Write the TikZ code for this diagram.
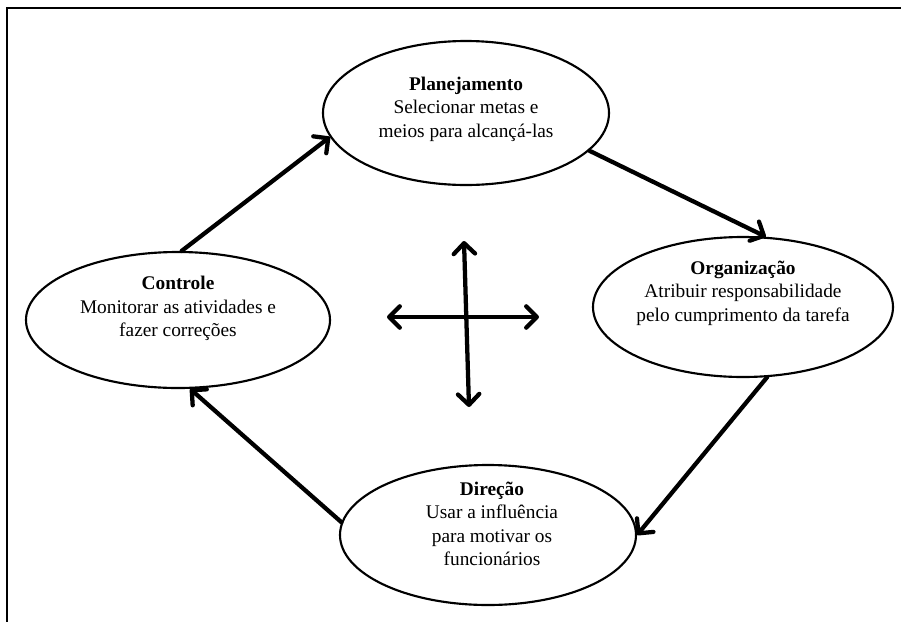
\documentclass[tikz,border=0pt]{standalone}
\usepackage{fontspec}
\setmainfont{Liberation Serif}
\usetikzlibrary{shapes.geometric,arrows.meta}
\begin{document}
\begin{tikzpicture}[x=0.75pt,y=-0.75pt,
  phase/.style={draw=black,line width=1.6pt,ellipse,inner sep=0pt},
  phasetext/.style={align=center,inner sep=0pt,font=\fontsize{14.5pt}{17.6pt}\selectfont},
  barb/.tip={Straight Barb[length=8pt,width=16pt,line cap=round,line join=round]},
  flow/.style={line width=3.2pt,line cap=round,line join=round,-barb},
  cross/.style={flow,barb-barb}]
\useasboundingbox (0,0) rectangle (901,622);

% outer frame (continues past the right and bottom edges)
\draw[line width=1.8pt] (7,640) -- (7,8) -- (920,8);

% the four management functions
\node[phase,minimum width=214.5pt,minimum height=108pt] (plan) at (466,113) {};
\node[phase,minimum width=225pt,minimum height=105pt] (org) at (743,307) {};
\node[phase,minimum width=228pt,minimum height=102pt] (ctl) at (178,320) {};
\node[phase,minimum width=222pt,minimum height=105pt] (dir) at (488,535) {};

\node[phasetext] (plant) at ([yshift=3pt]plan.center)
  {\textbf{Planejamento}\\Selecionar metas e\\meios para alcançá-las};
\node[phasetext] (orgt) at ([yshift=10.5pt]org.center)
  {\textbf{Organização}\\Atribuir responsabilidade\\pelo cumprimento da tarefa};
\node[phasetext] (ctlt) at ([yshift=8.5pt]ctl.center)
  {\textbf{Controle}\\Monitorar as atividades e\\fazer correções};
\node[phasetext] (dirt) at ([yshift=8.5pt,xshift=3pt]dir.center)
  {\textbf{Direção}\\Usar a influência\\para motivar os\\funcionários};

% cycle
\draw[flow] (ctl.87) -- (plan.190);
\draw[flow] (plan.-17) -- (org.72);
\draw[flow] (org.-71) -- (dir.0);
\draw[flow] (dir.175) -- (ctl.-80);

% central cross
\coordinate (cl) at (387,317);
\coordinate (cr) at (539,317);
\coordinate (ct) at (464,241);
\coordinate (cb) at (469,407);
\draw[cross] (cl) -- (cr);
\draw[cross] (ct) -- (cb);
\end{tikzpicture}
\end{document}
